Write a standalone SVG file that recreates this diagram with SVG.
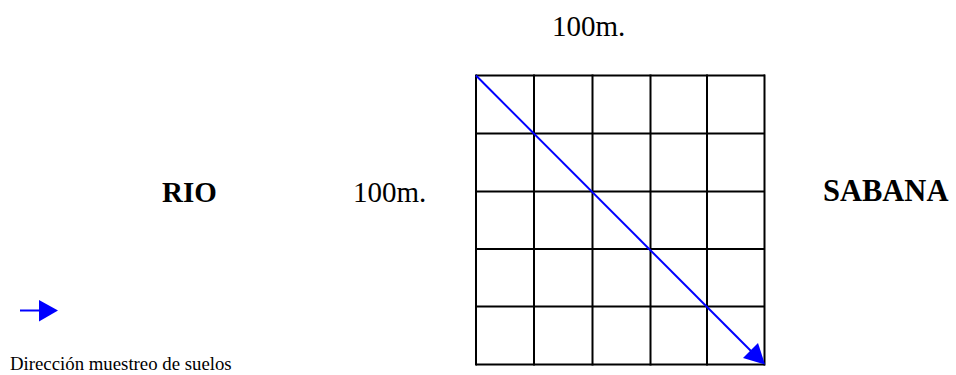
<svg xmlns="http://www.w3.org/2000/svg" width="956" height="375" viewBox="0 0 956 375">
<style>
.lbl{font-size:29px}
.bold{font-size:29px;font-weight:bold}
.small{font-size:18.8px}
.grid line{stroke:#000;stroke-width:2}
.dir{stroke:#0000ff;stroke-width:2;fill:none}
</style>
<rect width="956" height="375" fill="#fff"/>
<g id="grid" class="grid">
<line x1="476" y1="75.5" x2="765" y2="75.5"/>
<line x1="476" y1="133.5" x2="765" y2="133.5"/>
<line x1="476" y1="191.5" x2="765" y2="191.5"/>
<line x1="476" y1="249" x2="765" y2="249"/>
<line x1="476" y1="306.5" x2="765" y2="306.5"/>
<line x1="476" y1="364.5" x2="765" y2="364.5"/>
<line x1="476" y1="74.5" x2="476" y2="365.5"/>
<line x1="534" y1="74.5" x2="534" y2="365.5"/>
<line x1="592.5" y1="74.5" x2="592.5" y2="365.5"/>
<line x1="650.5" y1="74.5" x2="650.5" y2="365.5"/>
<line x1="707" y1="74.5" x2="707" y2="365.5"/>
<line x1="764.5" y1="74.5" x2="764.5" y2="365.5"/>
</g>
<g id="connectors">
<line class="dir" x1="476" y1="75.5" x2="752" y2="352"/>
<path d="M765,364.5 L743,358 L758,343 Z" fill="#0000ff"/>
<line class="dir" x1="20" y1="310.5" x2="40" y2="310.5"/>
<path d="M58,310.5 L39,300 L39,321.5 Z" fill="#0000ff"/>
</g>
<g id="top-label"><text class="lbl" font-family="'Liberation Serif', 'Times New Roman', serif" x="552" y="36">100m.</text></g>
<g id="side-label"><text class="lbl" font-family="'Liberation Serif', 'Times New Roman', serif" x="353" y="202">100m.</text></g>
<g id="rio"><text class="bold" font-family="'Liberation Serif', 'Times New Roman', serif" x="162" y="202">RIO</text></g>
<g id="sabana"><text class="bold" font-family="'Liberation Serif', 'Times New Roman', serif" x="823" y="201" style="font-size:30.5px">SABANA</text></g>
<g id="legend"><text class="small" font-family="'Liberation Serif', 'Times New Roman', serif" x="10" y="370">Dirección muestreo de suelos</text></g>
</svg>
